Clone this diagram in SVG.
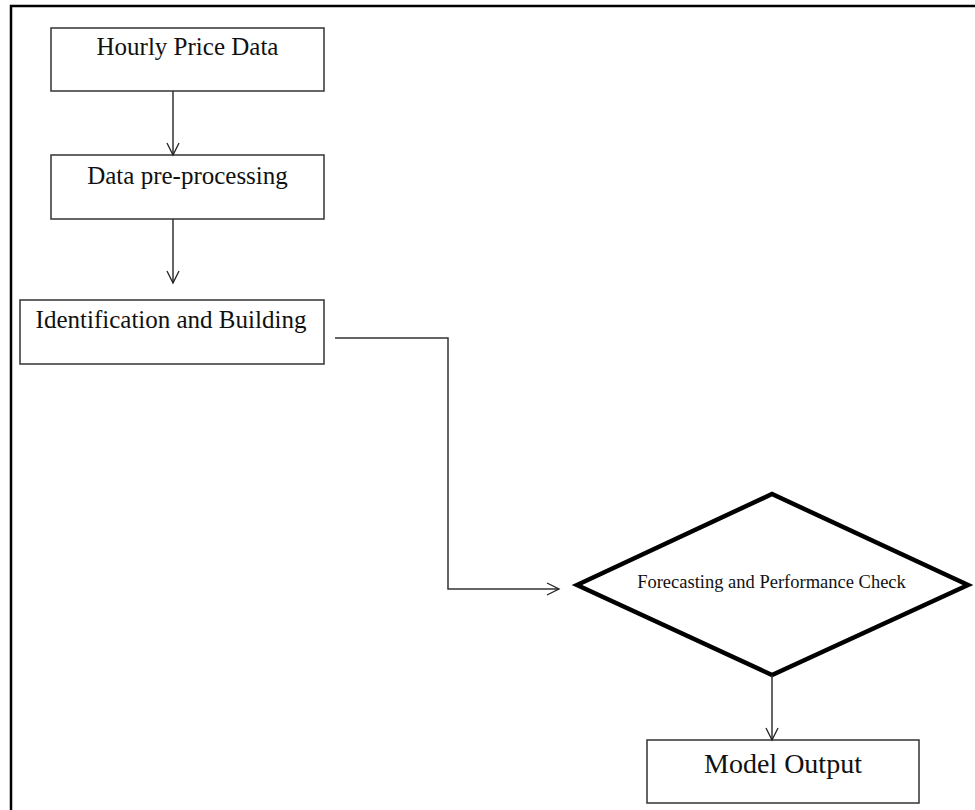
<svg xmlns="http://www.w3.org/2000/svg" width="975" height="810" viewBox="0 0 975 810">
<defs>
<marker id="arr" markerWidth="16" markerHeight="16" refX="13" refY="7" orient="auto" markerUnits="userSpaceOnUse">
<path d="M1,1 L13,7 L1,13" fill="none" stroke="#222" stroke-width="1.3"/>
</marker>
<style>
.box{fill:#fff;stroke:#333;stroke-width:1.5}
.t{font-family:"Liberation Serif","Times New Roman",serif;fill:#111;text-anchor:middle}
.c{fill:none;stroke:#333;stroke-width:1.5}
</style>
</defs>
<rect x="0" y="0" width="975" height="810" fill="#fff"/>
<g id="frame"><path d="M11,810 V6 H975" fill="none" stroke="#000" stroke-width="2.5"/></g>
<g id="n1"><rect class="box" x="51" y="28" width="273" height="63"/><text class="t" x="187.5" y="55" font-size="25">Hourly Price Data</text></g>
<g id="n2"><rect class="box" x="51" y="155" width="273" height="64"/><text class="t" x="187.5" y="184" font-size="25">Data pre-processing</text></g>
<g id="n3"><rect class="box" x="20" y="300" width="304" height="64"/><text class="t" x="171" y="328" font-size="25">Identification and Building</text></g>
<g id="n4"><polygon points="577,585 772,494 968,585 772,675" fill="#fff" stroke="#000" stroke-width="4.5" stroke-linejoin="miter"/><text class="t" x="771.5" y="588" font-size="18.5" fill="#333">Forecasting and Performance Check</text></g>
<g id="n5"><rect class="box" x="647" y="740" width="272" height="63"/><text class="t" x="783" y="773" font-size="28">Model Output</text></g>
<g id="connectors">
<line class="c" x1="173" y1="91" x2="173" y2="155" marker-end="url(#arr)"/>
<line class="c" x1="173" y1="219" x2="173" y2="283" marker-end="url(#arr)"/>
<polyline class="c" points="335,338 448,338 448,589 559,589" marker-end="url(#arr)"/>
<line class="c" x1="772" y1="675" x2="772" y2="740" marker-end="url(#arr)"/>
</g>
</svg>
